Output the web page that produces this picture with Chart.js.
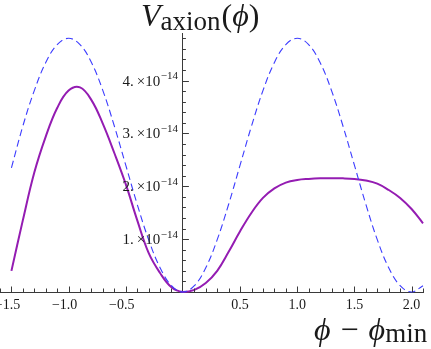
<!DOCTYPE html>
<html>
<head>
<meta charset="utf-8">
<script src="https://cdn.jsdelivr.net/npm/chart.js@4"></script>
<style>
  html, body { margin: 0; padding: 0; background: #fff; }
  #wrap { position: relative; width: 431px; height: 349px; overflow: hidden; }
  canvas { position: absolute; left: 0; top: 0; }
  .ttl { position: absolute; font-family: "Liberation Serif", "DejaVu Serif", serif; color: #1a1a1a; white-space: nowrap; line-height: 1; }
  .it { font-style: italic; }
</style>
</head>
<body>
<div id="wrap">
  <canvas id="c" width="431" height="349"></canvas>
  <div class="ttl" id="ytitle" style="left:141px; top:-1px; font-size:32px;"><span class="it">V</span><span style="font-size:27px; position:relative; top:4px;">axion</span><span style="margin-left:1px">(</span><span class="it">ϕ</span>)</div>
  <div class="ttl" id="xtitle" style="left:314px; top:313px; font-size:32px;"><span class="it">ϕ</span> <span style="margin:0 2px">−</span> <span class="it">ϕ</span><span style="font-size:27px; position:relative; top:2px;">min</span></div>
</div>
<script>
// ---- data (potential values in units of 1e-14) ----
const phi = [-1.5, -1.4, -1.3, -1.2, -1.1, -1.0, -0.9, -0.8, -0.7, -0.6, -0.5, -0.4, -0.3, -0.2, -0.1, 0.0,
             0.1, 0.2, 0.3, 0.4, 0.5, 0.6, 0.7, 0.8, 0.9, 1.0, 1.1, 1.2, 1.3, 1.4, 1.5, 1.6, 1.7, 1.8, 1.9, 2.0, 2.1];
const vSolid = [0.40, 1.36, 2.26, 2.94, 3.48, 3.81, 3.87, 3.63, 3.18, 2.63, 2.04, 1.36, 0.74, 0.36, 0.09, 0.0,
                0.04, 0.17, 0.40, 0.76, 1.15, 1.50, 1.78, 1.96, 2.07, 2.12, 2.14, 2.15, 2.15, 2.15, 2.14, 2.11, 2.05, 1.93, 1.78, 1.57, 1.30];
const vDashed = [2.35, 3.14, 3.81, 4.34, 4.68, 4.80, 4.68, 4.34, 3.81, 3.14, 2.40, 1.66, 0.99, 0.46, 0.12, 0.0,
                 0.12, 0.46, 0.99, 1.66, 2.40, 3.14, 3.81, 4.34, 4.68, 4.80, 4.68, 4.34, 3.81, 3.14, 2.40, 1.66, 0.99, 0.46, 0.12, 0.0, 0.12];
const xTickLabels = [-1.5, -1.0, -0.5, 0.5, 1.0, 1.5, 2.0];
const yTickLabels = [1, 2, 3, 4];
const yExponent = -14;

const solidPts = phi.map((x, i) => ({ x: x, y: vSolid[i] }));
const dashedPts = phi.map((x, i) => ({ x: x, y: vDashed[i] }));

const AXIS = '#3a3a3a';
const TXT = '#1a1a1a';
const SERIF = '"Liberation Serif", "DejaVu Serif", serif';

const axesPlugin = {
  id: 'mmaAxes',
  afterDatasetsDraw(chart) {
    const ctx = chart.ctx;
    const xs = chart.scales.x, ys = chart.scales.y;
    const y0 = ys.getPixelForValue(0);
    const x0 = xs.getPixelForValue(0);
    ctx.save();
    ctx.strokeStyle = AXIS;
    ctx.lineWidth = 1;
    for (let k = Math.ceil(xs.min * 10); k <= Math.floor(xs.max * 10); k++) {
      if (k === 0) continue;
      const px = Math.round(xs.getPixelForValue(k / 10)) + 0.5;
      const len = (k % 5 === 0) ? 5.5 : 3.5;
      ctx.beginPath(); ctx.moveTo(px, y0); ctx.lineTo(px, y0 - len); ctx.stroke();
    }
    for (let k = 1; k <= Math.floor(ys.max * 5); k++) {
      const py = Math.round(ys.getPixelForValue(k / 5)) + 0.5;
      const len = (k % 5 === 0) ? 6 : 3;
      ctx.beginPath(); ctx.moveTo(x0, py); ctx.lineTo(x0 + len, py); ctx.stroke();
    }
    ctx.restore();
  },
  afterDraw(chart) {
    const ctx = chart.ctx;
    const xs = chart.scales.x, ys = chart.scales.y;
    const y0 = ys.getPixelForValue(0);
    const x0 = xs.getPixelForValue(0);
    ctx.save();
    ctx.fillStyle = TXT;
    ctx.font = '14px ' + SERIF;
    ctx.textAlign = 'center';
    ctx.textBaseline = 'alphabetic';
    xTickLabels.forEach(v => {
      const s = (v < 0 ? '\u2212' : '') + Math.abs(v).toFixed(1);
      const px = xs.getPixelForValue(v);
      const shift = v < 0 ? -ctx.measureText('\u2212').width / 2 : 0;
      ctx.fillText(s, px + shift, y0 + 17);
    });
    yTickLabels.forEach(v => {
      const py = ys.getPixelForValue(v);
      const sup = '\u2212' + Math.abs(yExponent);
      ctx.font = '11px ' + SERIF;
      ctx.textAlign = 'right';
      const right = x0 - 5;
      const sw = ctx.measureText(sup).width;
      ctx.fillText(sup, right, py - 1.5);
      ctx.font = '15px ' + SERIF;
      ctx.fillText(v + '.\u2009\u00d710', right - sw - 0.5, py + 5);
    });
    ctx.restore();
  }
};

new Chart(document.getElementById('c'), {
  type: 'line',
  data: {
    datasets: [
      {
        label: 'dashed',
        data: dashedPts,
        borderColor: 'rgb(60,60,255)',
        borderWidth: 1.1,
        borderDash: [7, 4],
        pointRadius: 0,
        tension: 0.4,
        fill: false,
        clip: false
      },
      {
        label: 'solid',
        data: solidPts,
        borderColor: 'rgb(148,28,178)',
        borderWidth: 2,
        pointRadius: 0,
        tension: 0.4,
        fill: false,
        clip: false
      }
    ]
  },
  options: {
    responsive: false,
    animation: false,
    events: [],
    layout: { padding: { left: 0, right: 8, top: 33, bottom: 57 } },
    plugins: { legend: { display: false }, tooltip: { enabled: false }, title: { display: false } },
    scales: {
      x: {
        type: 'linear',
        position: { y: 0 },
        min: -1.6,
        max: 2.1,
        grid: { display: false, drawTicks: false },
        border: { display: true, color: AXIS, width: 1 },
        ticks: { display: false }
      },
      y: {
        type: 'linear',
        position: { x: 0 },
        min: 0,
        max: 4.9,
        grid: { display: false, drawTicks: false },
        border: { display: true, color: AXIS, width: 1 },
        ticks: { display: false }
      }
    }
  },
  plugins: [axesPlugin]
});
</script>
</body>
</html>
